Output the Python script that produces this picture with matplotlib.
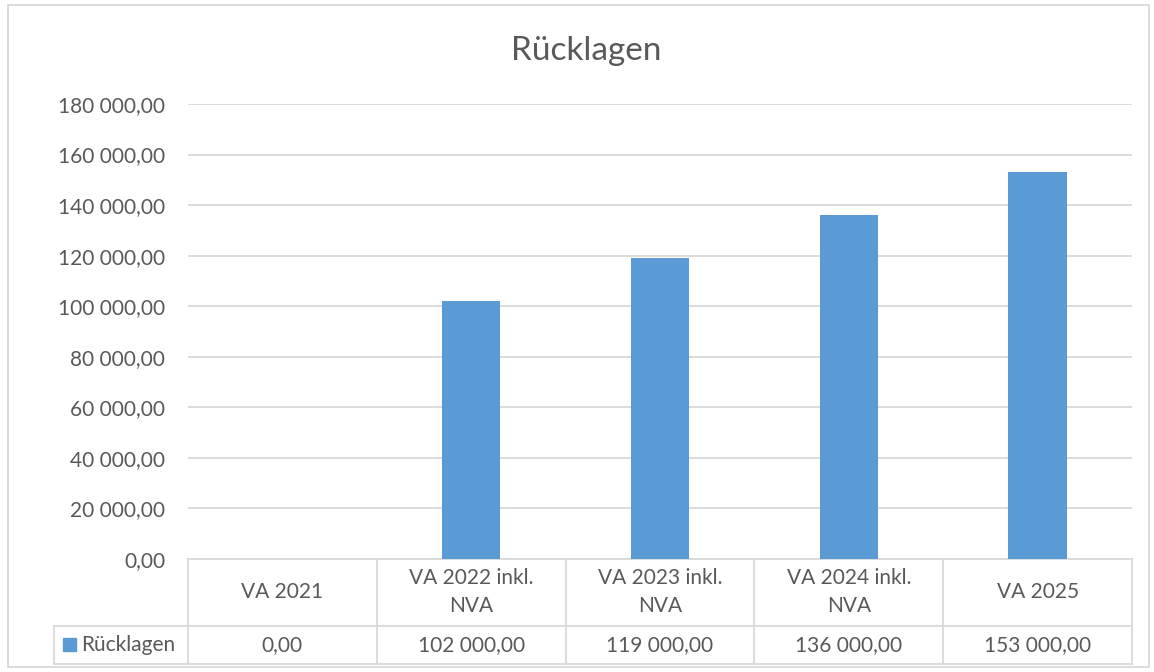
import matplotlib
matplotlib.use("Agg")
import matplotlib.pyplot as plt
from matplotlib.patches import Rectangle
from matplotlib.lines import Line2D
import matplotlib.transforms as mtransforms

categories = ["VA 2021", "VA 2022 inkl.\nNVA", "VA 2023 inkl.\nNVA", "VA 2024 inkl.\nNVA", "VA 2025"]
values = [0, 102000, 119000, 136000, 153000]
value_labels = ["0,00", "102 000,00", "119 000,00", "136 000,00", "153 000,00"]
series_name = "Rücklagen"
yticks = [0, 20000, 40000, 60000, 80000, 100000, 120000, 140000, 160000, 180000]

def fmt(v):
    s = f"{v:,.2f}"
    return s.replace(",", " ").replace(".", ",")

W, H = 1154, 672
plt.rcParams['font.family'] = ['Lato', 'DejaVu Sans']
TXT = "#595959"
GRID = "#d9d9d9"
BAR = "#5B9BD5"
FS = 15

fig = plt.figure(figsize=(W/100, H/100), dpi=100)

def fx(px): return px / W
def fy(py): return 1 - py / H

L, R, T, B = 188, 1132, 104, 559
ax = fig.add_axes([fx(L), fy(B), fx(R) - fx(L), (B - T) / H])
x = list(range(len(categories)))
ax.bar(x, values, width=0.31, color=BAR, zorder=3)
ax.set_xlim(-0.5, len(categories) - 0.5)
ax.set_ylim(0, 180000)
ax.set_yticks(yticks)
ax.set_yticklabels([fmt(v) for v in yticks], fontsize=FS, color=TXT)
ax.tick_params(axis='y', length=0, pad=16.5)
ax.set_xticks([])
for s in ax.spines.values():
    s.set_visible(False)
ax.yaxis.grid(True, color=GRID, linewidth=1.3, zorder=0)
ax.set_axisbelow(True)

# Title
fig.text(fx(586), fy(51), "Rücklagen", ha='center', va='center', fontsize=24, color=TXT)

# Data table
ah = B - T
tr = mtransforms.blended_transform_factory(ax.transData, ax.transAxes)
y0 = 0
y1 = -(626 - B) / ah
y2 = -(664 - B) / ah
lw = 1.3
ax.add_line(Line2D([-0.5, len(categories) - 0.5], [y0, y0], transform=tr, color=GRID, lw=lw, clip_on=False))
for i in range(len(categories) + 1):
    xv = i - 0.5
    ax.add_line(Line2D([xv, xv], [y0, y2], transform=tr, color=GRID, lw=lw, clip_on=False))
for py in (626, 664):
    fig.add_artist(Line2D([fx(54), fx(R)], [fy(py), fy(py)], color=GRID, lw=lw))
fig.add_artist(Line2D([fx(54), fx(54)], [fy(626), fy(664)], color=GRID, lw=lw))

for i, (c, v) in enumerate(zip(categories, value_labels)):
    ax.text(i, (y0 + y1) / 2, c, transform=tr, ha='center', va='center', fontsize=FS,
            color=TXT, linespacing=1.5, clip_on=False)
    ax.text(i, (y1 + y2) / 2, v, transform=tr, ha='center', va='center', fontsize=FS,
            color=TXT, clip_on=False)

# legend key in table
fig.add_artist(Rectangle((fx(63), fy(651)), fx(13), 13 / H, color=BAR))
fig.text(fx(81), fy(645), series_name, ha='left', va='center', fontsize=FS, color=TXT)

# outer border
fig.add_artist(Rectangle((fx(8), fy(667)), fx(1149 - 8), (667 - 5) / H, fill=False,
                         edgecolor=GRID, lw=1.3))

fig.savefig("out.png", dpi=100)
